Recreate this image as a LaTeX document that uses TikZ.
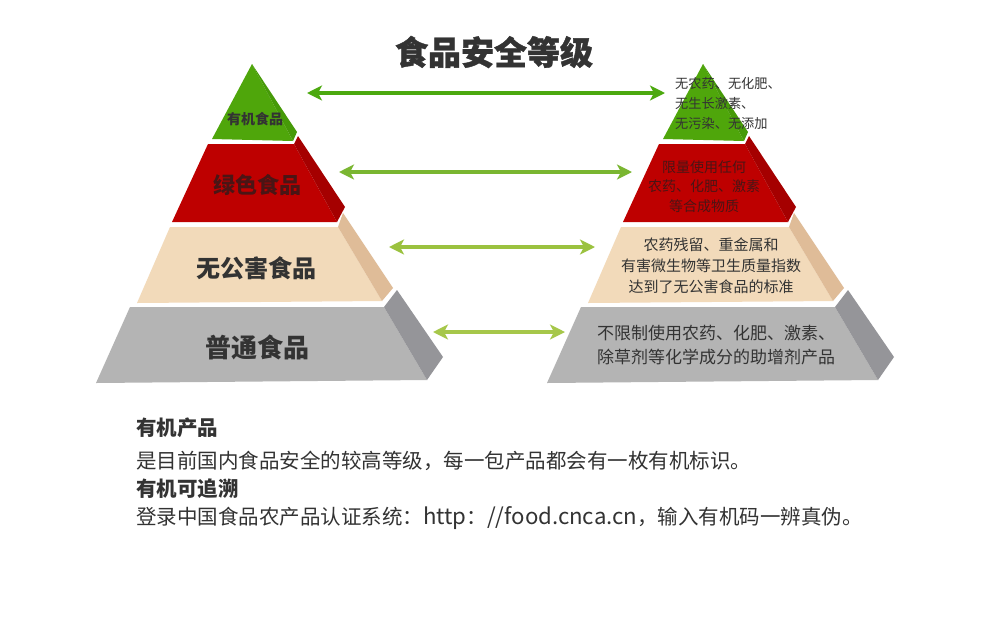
\documentclass[tikz,border=0pt]{standalone}
\usepackage{fontspec}
\setmainfont{Noto Sans CJK SC}
\usetikzlibrary{arrows.meta}
\definecolor{gfront}{HTML}{4FA60B}
\definecolor{gside}{HTML}{469A08}
\definecolor{rfront}{HTML}{BE0000}
\definecolor{rside}{HTML}{A50000}
\definecolor{tfront}{HTML}{F2DABA}
\definecolor{tside}{HTML}{DFBC98}
\definecolor{hfront}{HTML}{B4B4B4}
\definecolor{hside}{HTML}{959599}
\definecolor{txt}{HTML}{333333}
\definecolor{redtxt}{HTML}{4A1515}
\definecolor{arA}{HTML}{4CA90F}
\definecolor{arB}{HTML}{7AB631}
\definecolor{arC}{HTML}{9BC23F}
\definecolor{arD}{HTML}{A6C74A}
\newcommand\pyrshapes{%
  \fill[gfront] (252,64) -- (293,141) -- (212,139) -- cycle;
  \fill[gside] (252,64) -- (297,132) -- (293,141) -- cycle;
  \fill[rfront] (208,144) -- (294,144) -- (337,222) -- (172,222) -- cycle;
  \fill[rside] (294,144) -- (298,136) -- (345,207) -- (337,222) -- cycle;
  \fill[tfront] (170,227) -- (338,227) -- (382,301) -- (137,303) -- cycle;
  \fill[tside] (338,227) -- (343,213) -- (393,288) -- (382,301) -- cycle;
  \fill[hfront] (130,307) -- (384,307) -- (427,380) -- (96,383) -- cycle;
  \fill[hside] (384,307) -- (397,290) -- (443,357) -- (427,380) -- cycle;
}
\newcommand\latinpart[1]{{\fontsize{22.2}{24}\selectfont #1}}
\tikzset{
  lbl/.style={inner sep=0pt, text=txt, font=\bfseries},
  desc/.style={inner sep=0pt, text=txt, align=center},
  para/.style={inner sep=0pt, text=txt, anchor=west},
  dblarrow/.style={line width=4pt, {Stealth[length=15pt,width=15pt,inset=4pt]}-{Stealth[length=15pt,width=15pt,inset=4pt]}}
}
\begin{document}
\begin{tikzpicture}[x=1pt,y=-1pt]
\useasboundingbox (0,0) rectangle (990,630);
\fill[white] (0,0) rectangle (990,630);
% pyramids
\pyrshapes
\begin{scope}[xshift=451pt]
\pyrshapes
\end{scope}
% title
\node[lbl, font=\fontsize{33}{40}\selectfont\bfseries\addfontfeatures{FakeBold=1.2}] (title) at (494,52) {食品安全等级};
% left labels
\node[lbl, font=\fontsize{14}{16}\selectfont\bfseries] (l1) at (255,119) {有机食品};
\node[lbl, font=\fontsize{22}{26}\selectfont\bfseries, text=redtxt] (l2) at (257,185) {绿色食品};
\node[lbl, font=\fontsize{24}{28}\selectfont\bfseries] (l3) at (256,268) {无公害食品};
\node[lbl, font=\fontsize{26}{30}\selectfont\bfseries] (l4) at (257,347) {普通食品};
% right descriptions
\node[inner sep=0pt, text=txt, align=left, anchor=west, font=\fontsize{13.2}{20}\selectfont] (r1) at (675,103) {无农药、无化肥、\\无生长激素、\\无污染、无添加};
\node[desc, text=redtxt, font=\fontsize{14}{19.5}\selectfont] (r2) at (704,186.5) {限量使用任何\\农药、化肥、激素\\等合成物质};
\node[desc, font=\fontsize{15}{21}\selectfont] (r3) at (711,266) {农药残留、重金属和\\有害微生物等卫生质量指数\\达到了无公害食品的标准};
\node[desc, font=\fontsize{17}{23.5}\selectfont] (r4) at (716,345) {不限制使用农药、化肥、激素、\\除草剂等化学成分的助增剂产品};
% arrows
\coordinate (a1l) at (307,93);  \coordinate (a1r) at (665,93);
\coordinate (a2l) at (339,172); \coordinate (a2r) at (632,172);
\coordinate (a3l) at (389,247); \coordinate (a3r) at (595,247);
\coordinate (a4l) at (433,332); \coordinate (a4r) at (565,332);
\draw[dblarrow, arA] (a1l) -- (a1r);
\draw[dblarrow, arB] (a2l) -- (a2r);
\draw[dblarrow, arC] (a3l) -- (a3r);
\draw[dblarrow, arD] (a4l) -- (a4r);
% bottom text
\node[para, font=\fontsize{20.5}{24}\selectfont\bfseries] (p1) at (136,427.5) {有机产品};
\node[para, font=\fontsize{20.5}{24}\selectfont] (p2) at (136,461) {是目前国内食品安全的较高等级，每一包产品都会有一枚有机标识。};
\node[para, font=\fontsize{20.5}{24}\selectfont\bfseries] (p3) at (136,489) {有机可追溯};
\node[para, font=\fontsize{20.5}{24}\selectfont] (p4) at (136,518) {登录中国食品农产品认证系统：\latinpart{http}：\latinpart{//food.cnca.cn}，输入有机码一辨真伪。};
\end{tikzpicture}
\end{document}
